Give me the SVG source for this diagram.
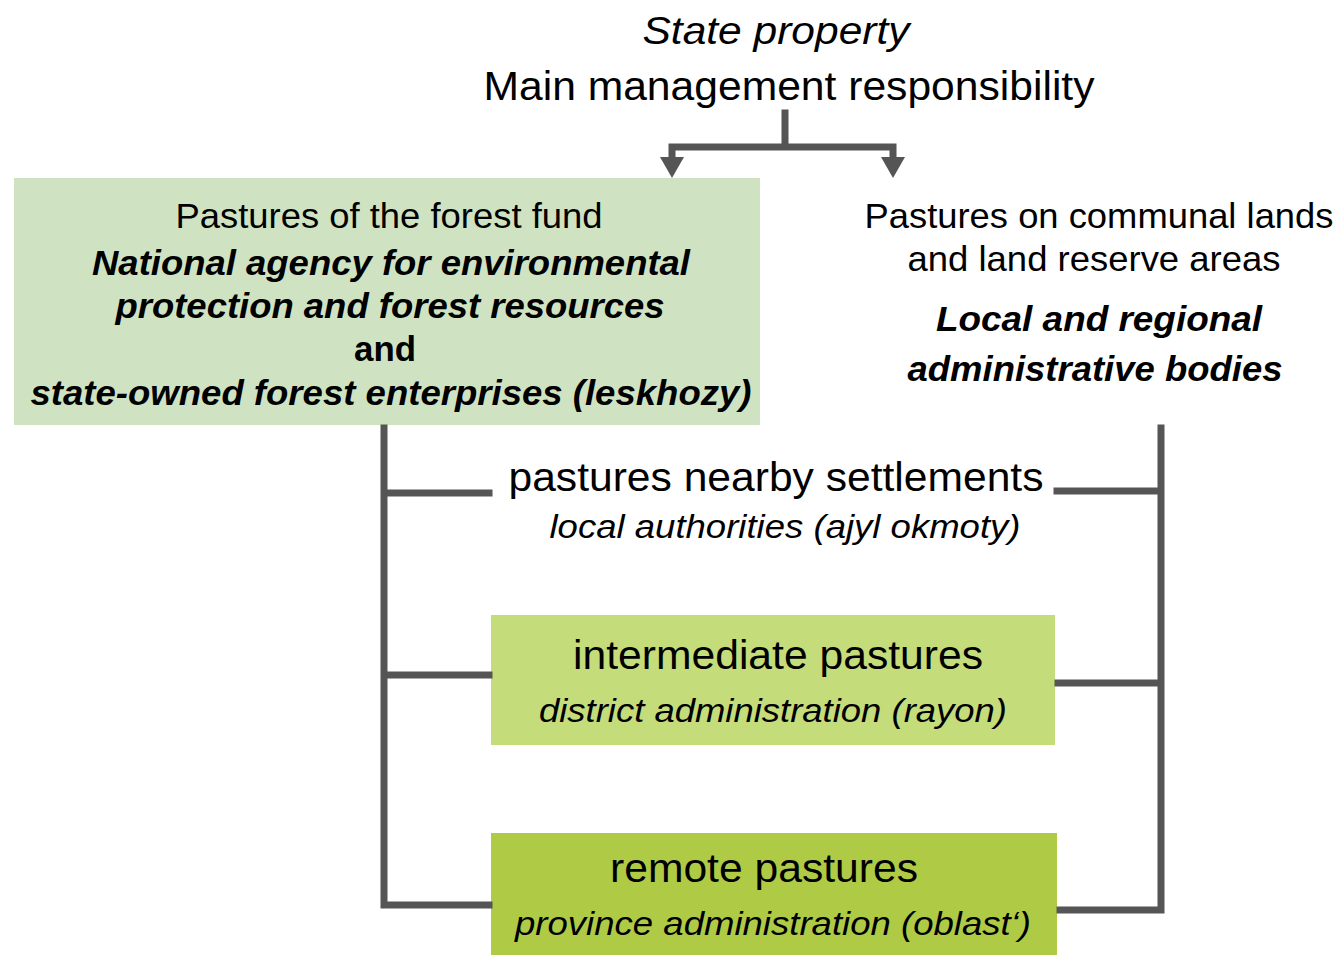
<svg xmlns="http://www.w3.org/2000/svg" width="1340" height="955" viewBox="0 0 1340 955">
<style>
text{font-family:"Liberation Sans",Arial,sans-serif;fill:#000;text-anchor:middle}
.i{font-style:italic}
.bi{font-style:italic;font-weight:bold}
.b{font-weight:bold}
.ln{stroke:#555;stroke-width:7;fill:none;stroke-linecap:square;stroke-linejoin:miter}
.ah{fill:#555}
</style>
<rect width="1340" height="955" fill="#fff"/>
<g id="header">
<text class="i" x="776" y="44" font-size="38" textLength="267" lengthAdjust="spacingAndGlyphs">State property</text>
<text x="789" y="100" font-size="40" textLength="611" lengthAdjust="spacingAndGlyphs">Main management responsibility</text>
</g>
<g id="forest-fund">
<rect x="14" y="178" width="746" height="247" fill="#cfe3c3"/>
<text x="389" y="228" font-size="35" textLength="427" lengthAdjust="spacingAndGlyphs">Pastures of the forest fund</text>
<text class="bi" x="391" y="275" font-size="35" textLength="598" lengthAdjust="spacingAndGlyphs">National agency for environmental</text>
<text class="bi" x="390" y="318" font-size="35" textLength="549" lengthAdjust="spacingAndGlyphs">protection and forest resources</text>
<text class="b" x="385" y="361" font-size="35" textLength="62" lengthAdjust="spacingAndGlyphs">and</text>
<text class="bi" x="391" y="405" font-size="35" textLength="721" lengthAdjust="spacingAndGlyphs">state-owned forest enterprises (leskhozy)</text>
</g>
<g id="communal">
<text x="1099" y="228" font-size="35" textLength="469" lengthAdjust="spacingAndGlyphs">Pastures on communal lands</text>
<text x="1094" y="271" font-size="35" textLength="373" lengthAdjust="spacingAndGlyphs">and land reserve areas</text>
<text class="bi" x="1099" y="331" font-size="35" textLength="326" lengthAdjust="spacingAndGlyphs">Local and regional</text>
<text class="bi" x="1095" y="381" font-size="35" textLength="375" lengthAdjust="spacingAndGlyphs">administrative bodies</text>
</g>
<g id="nearby">
<text x="776" y="491" font-size="40" textLength="535" lengthAdjust="spacingAndGlyphs">pastures nearby settlements</text>
<text class="i" x="785" y="538" font-size="34" textLength="471" lengthAdjust="spacingAndGlyphs">local authorities (ajyl okmoty)</text>
</g>
<g id="intermediate">
<rect x="491" y="615" width="564" height="130" fill="#c4dc7a"/>
<text x="778" y="669" font-size="40" textLength="410" lengthAdjust="spacingAndGlyphs">intermediate pastures</text>
<text class="i" x="773" y="722" font-size="34" textLength="468" lengthAdjust="spacingAndGlyphs">district administration (rayon)</text>
</g>
<g id="remote">
<rect x="491" y="833" width="566" height="122" fill="#afcb45"/>
<text x="764" y="882" font-size="40" textLength="308" lengthAdjust="spacingAndGlyphs">remote pastures</text>
<text class="i" x="773" y="935" font-size="34" textLength="516" lengthAdjust="spacingAndGlyphs">province administration (oblast‘)</text>
</g>
<g id="connectors">
<path class="ln" d="M785 113 V146 M672 147 H893 M672 147 V160 M893 147 V160"/>
<polygon class="ah" points="660,157 684,157 672,178"/>
<polygon class="ah" points="881,157 905,157 893,178"/>
<path class="ln" d="M384 428 V905 H489 M384 493 H489 M384 675 H489"/>
<path class="ln" d="M1161 428 V910 H1060 M1161 491 H1057 M1161 683 H1058"/>
</g>
</svg>
